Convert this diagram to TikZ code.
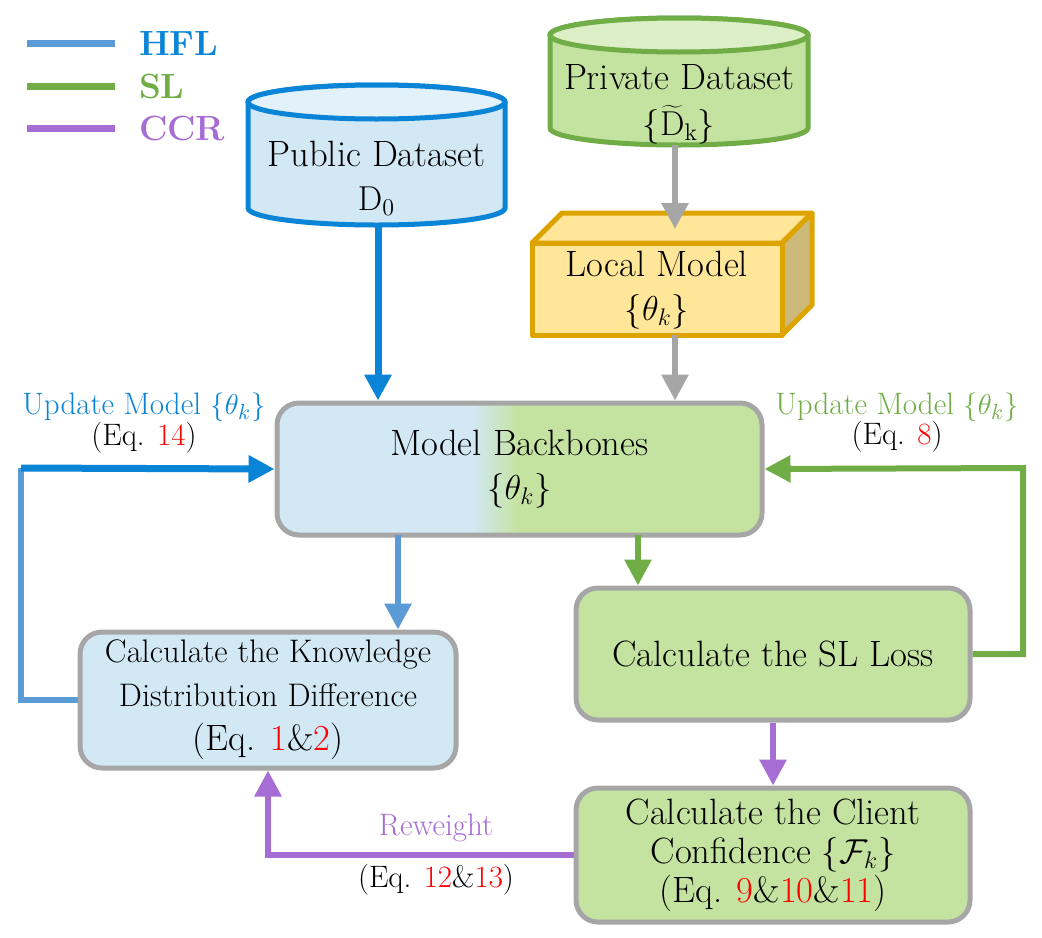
\documentclass[tikz,border=0pt]{standalone}
\usetikzlibrary{arrows.meta,calc}
\definecolor{hfldark}{HTML}{0A84D6}
\definecolor{hfllight}{HTML}{5B9BD5}
\definecolor{slgreen}{HTML}{70AD47}
\definecolor{ccrpurple}{HTML}{A66DD4}
\definecolor{bluefill}{HTML}{D2E8F5}
\definecolor{bluetop}{HTML}{E3F1FA}
\definecolor{greenfill}{HTML}{C5E3A0}
\definecolor{greentop}{HTML}{DCEFC7}
\definecolor{boxgray}{HTML}{A6A6A6}
\definecolor{goldline}{HTML}{DDA400}
\definecolor{goldfill}{HTML}{FFE699}
\definecolor{goldside}{HTML}{CDB97A}
\definecolor{eqred}{HTML}{FF0000}
\pgfdeclarehorizontalshading{backboneshade}{100bp}{color(0bp)=(bluefill); color(45bp)=(bluefill); color(50bp)=(greenfill); color(100bp)=(greenfill)}
\newcommand{\eqn}[1]{\textcolor{eqred}{#1}}
\begin{document}
\begin{tikzpicture}[x=0.5pt, y=0.5pt,
    big/.style = {font=\fontsize{18.3}{22}\selectfont},
    small/.style = {font=\fontsize{15.5}{18}\selectfont},
    key/.style = {font=\fontsize{17.5}{22}\selectfont\bfseries, anchor=west},
    box/.style = {draw=boxgray, line width=2.5pt, rounded corners=11pt, align=center, inner sep=0pt, big},
    flow/.style = {line width=3pt, -{Triangle[length=13pt,width=13pt]}}]
    \useasboundingbox (0,0) rectangle (1042,-937);

    \draw[hfllight, line width=3.5pt] (27,-43) -- (115,-43);
    \draw[slgreen, line width=3.5pt] (27,-86) -- (115,-86);
    \draw[ccrpurple, line width=3.5pt] (27,-128) -- (115,-128);
    \node[key, text=hfldark] (hflkey) at (132,-43) {HFL};
    \node[key, text=slgreen] (slkey) at (132,-86) {SL};
    \node[key, text=ccrpurple] (ccrkey) at (132,-128) {CCR};

    \filldraw[draw=hfldark, fill=bluefill, line width=2.5pt] (248,-102) -- (248,-208) arc[start angle=180, end angle=360, x radius=128.5, y radius=17] -- (505,-102) arc[start angle=0, end angle=180, x radius=128.5, y radius=17] -- cycle;
    \filldraw[draw=hfldark, fill=bluetop, line width=2.5pt] (376.5,-102) ellipse[x radius=128.5, y radius=17];
    \node[big, align=center] (pub) at (376.5,-178) {Public Dataset\\$\mathrm{D}_0$};

    \filldraw[draw=slgreen, fill=greenfill, line width=2.5pt] (550,-35) -- (550,-128) arc[start angle=180, end angle=360, x radius=129, y radius=17] -- (808,-35) arc[start angle=0, end angle=180, x radius=129, y radius=17] -- cycle;
    \filldraw[draw=slgreen, fill=greentop, line width=2.5pt] (679,-35) ellipse[x radius=129, y radius=17];
    \node[big, align=center] (priv) at (679,-104) {Private Dataset\\[1pt]$\{\widetilde{\mathrm{D}}_{\mathrm{k}}\}$};

    \filldraw[draw=goldline, fill=goldfill, line width=2.5pt, line join=round] (532,-243) -- (562,-213) -- (812,-213) -- (782,-243) -- cycle;
    \filldraw[draw=goldline, fill=goldside, line width=2.5pt, line join=round] (782,-243) -- (812,-213) -- (812,-305) -- (782,-335) -- cycle;
    \filldraw[draw=goldline, fill=goldfill, line width=2.5pt, line join=round] (532,-243) rectangle (782,-335);
    \node[big, align=center] (local) at (657,-290) {Local Model\\$\{\theta_k\}$};

    \node[box, shade, shading=backboneshade, minimum width=242.5pt, minimum height=66pt] (bb) at (519.5,-469) {Model Backbones\\$\{\theta_k\}$};
    \node[box, fill=bluefill, minimum width=188pt, minimum height=68pt] (kdd) at (268,-700) {{\fontsize{16.3}{18}\selectfont Calculate the Knowledge}\\{\fontsize{16.3}{19.5}\selectfont Distribution Difference}\\(Eq. \eqn{1}\&\eqn{2})};
    \node[box, fill=greenfill, minimum width=197pt, minimum height=66pt] (sl) at (773,-654) {Calculate the SL Loss};
    \node[box, fill=greenfill, minimum width=197pt, minimum height=67pt, font=\fontsize{18.3}{19.5}\selectfont] (client) at (773,-855) {Calculate the Client\\Confidence $\{\mathcal{F}_k\}$\\(Eq. \eqn{9}\&\eqn{10}\&\eqn{11})};

    \coordinate (pubbot) at (378,-225);
    \coordinate (privbot) at (675,-145);
    \coordinate (localtop) at (675,-229);
    \coordinate (localbot) at (675,-335);
    \coordinate (hfldown) at (398,-535);
    \coordinate (sldown) at (638,-535);
    \coordinate (hflcorner) at (21,-468);
    \coordinate (slcorner) at (1023,-468);

    \draw[flow, hfldark, line width=3.5pt] (pubbot) -- (pubbot |- bb.north);
    \draw[flow, boxgray] (privbot) -- (localtop);
    \draw[flow, boxgray] (localbot) -- (localbot |- bb.north);
    \draw[flow, hfllight] (hfldown) -- (hfldown |- kdd.north);
    \draw[flow, slgreen] (sldown) -- (sldown |- sl.north);
    \draw[flow, ccrpurple] (sl.south) -- (client.north);
    \draw[flow, ccrpurple] (client.west) -| (kdd.south);
    \draw[hfllight, line width=3pt] (kdd.west) -| (hflcorner);
    \draw[flow, hfldark, line width=3.5pt] (hflcorner) -- (bb.west);
    \draw[flow, slgreen] (sl.east) -| (slcorner) -- (bb.east);

    \node[small, text=hfldark] (hflupd) at (144,-407) {Update Model $\{\theta_k\}$};
    \node[small] (hfleq) at (144,-438) {(Eq. \eqn{14})};
    \node[small, text=slgreen] (slupd) at (897,-407) {Update Model $\{\theta_k\}$};
    \node[small] (sleq) at (897,-437) {(Eq. \eqn{8})};
    \node[small, text=ccrpurple] (rwlbl) at (436,-828) {Reweight};
    \node[small] (rweq) at (436,-880) {(Eq. \eqn{12}\&\eqn{13})};
\end{tikzpicture}
\end{document}
